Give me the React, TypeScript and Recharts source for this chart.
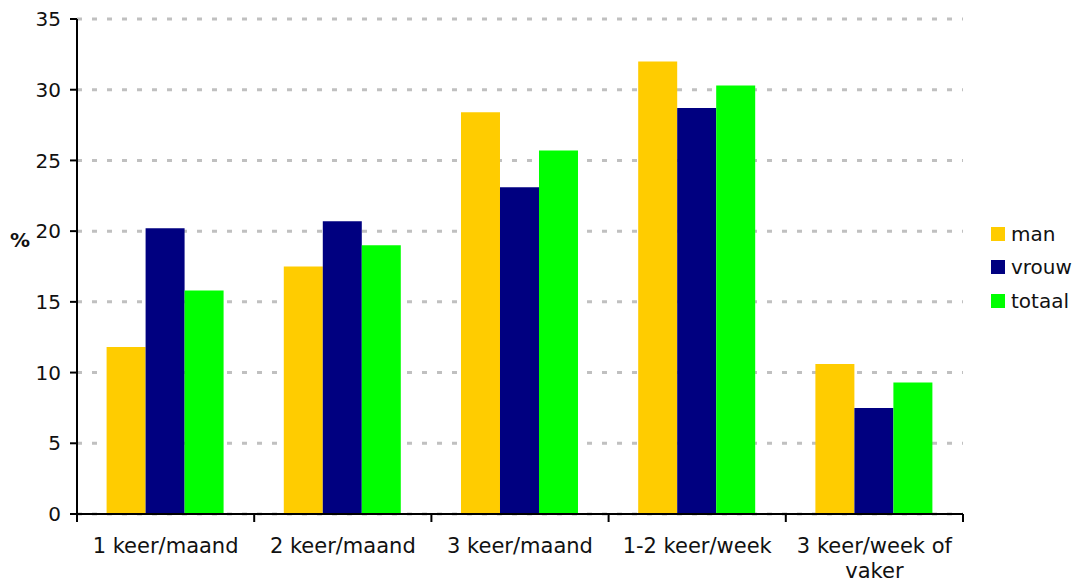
import React from 'react';
import {
  BarChart,
  Bar,
  XAxis,
  YAxis,
  CartesianGrid,
  Legend,
} from 'recharts';

const categories = ['1 keer/maand', '2 keer/maand', '3 keer/maand', '1-2 keer/week', '3 keer/week of vaker'];
const man = [11.8, 17.5, 28.4, 32.0, 10.6];
const vrouw = [20.2, 20.7, 23.1, 28.7, 7.5];
const totaal = [15.8, 19.0, 25.7, 30.3, 9.3];
const yTicks = [0, 5, 10, 15, 20, 25, 30, 35];

const series = [
  { key: 'man', color: '#FFCC00' },
  { key: 'vrouw', color: '#000080' },
  { key: 'totaal', color: '#00FF00' },
];

const data = categories.map((name, i) => ({
  name,
  man: man[i],
  vrouw: vrouw[i],
  totaal: totaal[i],
}));

const W = 1078;
const H = 583;
const margin = { top: 19, right: 115, bottom: 0, left: 0 };
const xAxisHeight = 69;
const yAxisWidth = 77;
const plotWidth = W - margin.left - margin.right - yAxisWidth;
const band = plotWidth / categories.length;
const font = '"DejaVu Sans", Verdana, sans-serif';

// greedy word wrap, roughly 15 chars per line
const wrap = (s: string, max = 15) => {
  const lines: string[] = [];
  let cur = '';
  s.split(' ').forEach(w => {
    const next = cur ? cur + ' ' + w : w;
    if (next.length > max && cur) {
      lines.push(cur);
      cur = w;
    } else cur = next;
  });
  if (cur) lines.push(cur);
  return lines;
};

const XTick = (props: any) => {
  const { x, y, payload, index } = props;
  const lines = wrap(String(payload.value));
  const left = x - band / 2;
  return (
    <g>
      <line x1={left} y1={y} x2={left} y2={y + 8} stroke="#000" strokeWidth={2} />
      {index === categories.length - 1 && (
        <line x1={x + band / 2} y1={y} x2={x + band / 2} y2={y + 8} stroke="#000" strokeWidth={2} />
      )}
      <text x={x} y={y + 39} textAnchor="middle" fontSize={21} fontFamily={font} fill="#111">
        {lines.map((l, i) => (
          <tspan key={i} x={x} dy={i === 0 ? 0 : 25}>{l}</tspan>
        ))}
      </text>
    </g>
  );
};

const LegendContent = () => (
  <div style={{ fontFamily: font, fontSize: 20, color: '#111' }}>
    {series.map(s => (
      <div key={s.key} style={{ display: 'flex', alignItems: 'center', height: 33.5 }}>
        <span style={{ width: 14, height: 14, background: s.color, display: 'inline-block', marginRight: 6 }} />
        <span>{s.key}</span>
      </div>
    ))}
  </div>
);

export default function App() {
  return (
    <div style={{ position: 'absolute', left: 0, top: 0, width: W, height: H, background: '#fff' }}>
      <BarChart width={W} height={H} data={data} margin={margin} barGap={0} barCategoryGap="16.7%">
        <CartesianGrid vertical={false} stroke="#c0c0c0" strokeWidth={3} strokeDasharray="5 10" />
        <XAxis
          dataKey="name"
          height={xAxisHeight}
          axisLine={{ stroke: '#000', strokeWidth: 2 }}
          tickLine={false}
          tickSize={0}
          tickMargin={0}
          tick={<XTick />}
          interval={0}
        />
        <YAxis
          width={yAxisWidth}
          domain={[0, 35]}
          ticks={yTicks}
          interval={0}
          axisLine={{ stroke: '#000', strokeWidth: 2 }}
          tickLine={{ stroke: '#000', strokeWidth: 2 }}
          tickSize={7}
          tickMargin={9}
          tick={{ fontSize: 20, fontFamily: font, fill: '#111' }}
        />
        <Legend
          layout="horizontal"
          align="center"
          verticalAlign="middle"
          content={<LegendContent />}
          wrapperStyle={{ position: 'absolute', left: 991, top: 217, right: 'auto', width: 90 }}
        />
        {series.map(s => (
          <Bar key={s.key} dataKey={s.key} fill={s.color} isAnimationActive={false} />
        ))}
      </BarChart>
      <div
        style={{
          position: 'absolute',
          left: 10,
          top: 228,
          fontFamily: font,
          fontSize: 20,
          fontWeight: 'bold',
          color: '#111',
        }}
      >
        %
      </div>
    </div>
  );
}
